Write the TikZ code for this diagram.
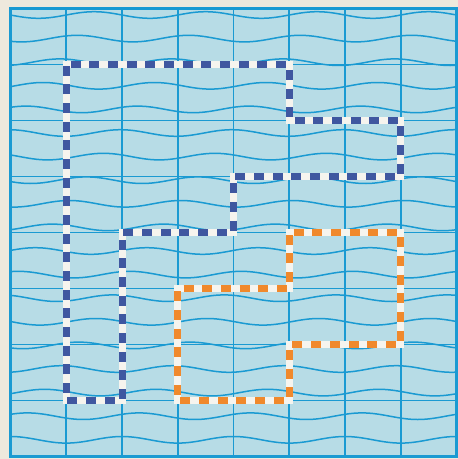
\documentclass[tikz,border=0pt]{standalone}
\definecolor{margin}{HTML}{EEE9DD}
\definecolor{paper}{HTML}{B7DCE6}
\definecolor{gridc}{HTML}{1A9AD2}
\definecolor{dashblue}{HTML}{3F57A0}
\definecolor{dashorange}{HTML}{F0892C}
\definecolor{gapwhite}{HTML}{F6F4EE}
\begin{document}
\begin{tikzpicture}[x=1pt,y=-1pt,
  gridline/.style={draw=gridc,line width=1.7pt},
  waveline/.style={draw=gridc,line width=1.5pt},
  frameline/.style={draw=gridc,line width=3.5pt},
  underlay/.style={draw=gapwhite,line width=7pt,line join=miter},
  bluedash/.style={draw=dashblue,line width=7pt,line join=miter,dash pattern=on 10pt off 8.67pt,dash phase=14.3pt},
  orangedash/.style={draw=dashorange,line width=7pt,line join=miter,dash pattern=on 10pt off 8.67pt,dash phase=14.3pt}]
\fill[margin] (0,0) rectangle (458,459);
\useasboundingbox (0,0) rectangle (458,459);
\foreach \i in {0,...,8} {
  \foreach \j in {0,...,8} {
    \coordinate (g\i\j) at ({10.5+55.75*\i},{8.5+56*\j});
  }
}
\fill[paper] (g00) rectangle (g88);
\begin{scope}
  \clip (g00) rectangle (g88);
  \foreach \k in {0,...,18} {
    \draw[waveline] plot[domain=10.5:456.5,samples=70,smooth,variable=\t]
      (\t,{15+23.6*\k+3.3*sin((\t-10.5)/111.5*360+55*\k)});
  }
  \foreach \i in {1,...,7} {
    \draw[gridline] (g\i0) -- (g\i8);
    \draw[gridline] (g0\i) -- (g8\i);
  }
\end{scope}
\draw[frameline] (g00) rectangle (g88);
% blue outline
\draw[underlay] (g11) -- (g51) -- (g52) -- (g72) -- (g73) -- (g43) -- (g44) -- (g24) -- (g27) -- (g17) -- cycle;
\draw[bluedash] (g11) -- (g51) -- (g52) -- (g72) -- (g73) -- (g43) -- (g44) -- (g24) -- (g27) -- (g17) -- cycle;
% orange outline
\draw[underlay] (g54) -- (g74) -- (g76) -- (g56) -- (g57) -- (g37) -- (g35) -- (g55) -- cycle;
\draw[orangedash] (g54) -- (g74) -- (g76) -- (g56) -- (g57) -- (g37) -- (g35) -- (g55) -- cycle;
\end{tikzpicture}
\end{document}
